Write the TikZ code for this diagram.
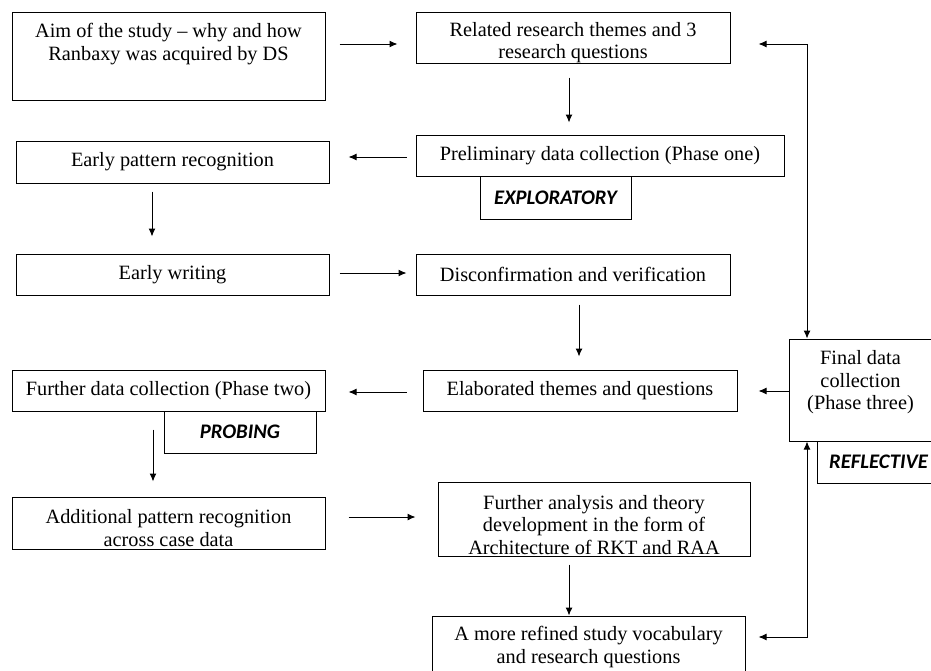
\documentclass[tikz,border=0pt]{standalone}
\usepackage{fontspec}
\setmainfont{Liberation Serif}
\newfontfamily\tagfamily{Carlito}
\usetikzlibrary{arrows.meta, calc}
\newcommand{\boxfont}{\fontsize{20.3pt}{22.5pt}\selectfont}
\newcommand{\tagfont}{\tagfamily\fontsize{20.7pt}{23pt}\selectfont\bfseries\itshape}
\tikzset{
  sbox/.style={
    rectangle, draw=black, line width=1pt,
    align=center, inner sep=0pt, font=\boxfont
  },
  tagbox/.style={
    rectangle, draw=black, line width=1pt,
    align=center, inner sep=0pt, font=\tagfont
  },
  arr/.style={-{Latex[length=8pt,width=7pt]}, line width=1pt},
  darr/.style={{Latex[length=8pt,width=7pt]}-{Latex[length=8pt,width=7pt]}, line width=1pt},
}

\begin{document}
\begin{tikzpicture}[x=1pt,y=-1pt]
  \useasboundingbox (0,0) rectangle (931,670);
  % left column
  \node[sbox, minimum width=313pt, minimum height=88pt] (aim) at (168.5,56)
    {Aim of the study -- why and how\\Ranbaxy was acquired by DS\\[6pt]\mbox{}};
  \node[sbox, minimum width=313pt, minimum height=42pt] (epr) at (172.5,162) {Early pattern recognition};
  \node[sbox, minimum width=313pt, minimum height=41pt] (ewr) at (172.5,274.5) {Early writing};
  \node[sbox, minimum width=313pt, minimum height=41pt] (fdc) at (168.5,390.5) {Further data collection (Phase two)};
  \node[tagbox, minimum width=152pt, minimum height=42pt] (prob) at (240,432) {PROBING};
  \node[sbox, minimum width=313pt, minimum height=52pt] (add) at (168.5,523)
    {\rule{0pt}{24pt}Additional pattern recognition\\across case data};
  % middle column
  \node[sbox, minimum width=314pt, minimum height=51pt] (rel) at (573,37.5)
    {\rule{0pt}{24pt}Related research themes and 3\\research questions};
  \node[sbox, minimum width=368pt, minimum height=41pt] (pre) at (600,155.5) {Preliminary data collection (Phase one)};
  \node[tagbox, minimum width=151pt, minimum height=43pt] (expl) at (555.5,197.5) {EXPLORATORY};
  \node[sbox, minimum width=314pt, minimum height=41pt] (dis) at (573,274.5) {Disconfirmation and verification};
  \node[sbox, minimum width=314pt, minimum height=41pt] (ela) at (580,390.5) {Elaborated themes and questions};
  \node[sbox, minimum width=312pt, minimum height=74pt] (fan) at (594,519)
    {\rule{0pt}{26pt}Further analysis and theory\\development in the form of\\Architecture of RKT and RAA};
  \node[sbox, minimum width=313pt, minimum height=62pt] (ref) at (588.5,647)
    {A more refined study vocabulary\\and research questions};
  % right column
  \node[sbox, minimum width=143pt, minimum height=102pt] (fin) at (860.5,390)
    {Final data\\collection\\(Phase three)\\[-2.5pt]\mbox{}};
  \node[tagbox, minimum width=123pt, minimum height=42pt] (refl) at (878.5,462) {REFLECTIVE};

  % connectors
  \draw[arr, shorten <=14pt, shorten >=18pt] ([yshift=12pt]aim.east) -- ([yshift=-6.5pt]rel.west);
  \draw[arr, shorten <=14pt, shorten >=12pt] ([xshift=-4pt]rel.south) -- ([xshift=-4pt]rel.south |- pre.north);
  \draw[arr, shorten <=9pt, shorten >=19pt] ([yshift=-1.5pt]pre.west) -- ([yshift=-1.5pt]pre.west -| epr.east);
  \draw[arr, shorten <=8pt, shorten >=17pt] ([xshift=-20.5pt]epr.south) -- ([xshift=-20.5pt]ewr.north);
  \draw[arr, shorten <=10pt, shorten >=9pt] ([yshift=1.5pt]ewr.east) -- ([yshift=1.5pt]dis.west);
  \draw[arr, shorten <=9pt, shorten >=13pt] ([xshift=6pt]dis.south) -- ([xshift=6pt]dis.south |- ela.north);
  \draw[arr, shorten <=16pt, shorten >=23pt] ([yshift=-1.5pt]ela.west) -- ([yshift=-1.5pt]ela.west -| fdc.east);
  \draw[arr, shorten >=21pt] ([yshift=-1pt]fin.west) -- ([yshift=-1pt]fin.west -| ela.east);
  \draw[arr, shorten <=18pt, shorten >=15pt] ([xshift=-15.5pt]fdc.south) -- ([xshift=-15.5pt]add.north);
  \draw[arr, shorten <=23pt, shorten >=22pt] ([yshift=6pt]add.east) -- ([yshift=6pt]add.east -| fan.west);
  \draw[arr, shorten <=8pt] ([xshift=-25pt]fan.south) -- ([xshift=-25pt]fan.south |- ref.north);
  \draw[darr, shorten >=28pt] ([xshift=-53.5pt]fin.north) |- ([yshift=-6.5pt]rel.east);
  \draw[darr, shorten >=13pt] ([xshift=-53.5pt]fin.south) |- ([yshift=10pt]ref.east);
\end{tikzpicture}
\end{document}
